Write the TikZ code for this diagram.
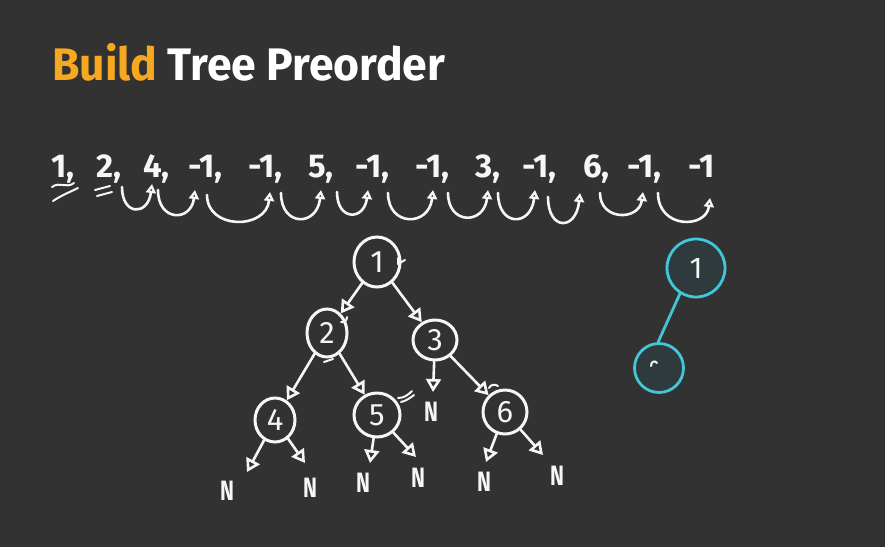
\documentclass[tikz,border=0pt]{standalone}
\usepackage{fontspec}
\usepackage{graphicx}
\setmainfont{Fira Sans}
\usetikzlibrary{arrows.meta,shapes.geometric}
\definecolor{board}{RGB}{50,50,50}
\definecolor{titleorange}{RGB}{246,168,33}
\definecolor{cyanchalk}{RGB}{66,198,216}
\definecolor{cyanfill}{RGB}{46,58,60}
\definecolor{chalk}{RGB}{246,246,246}
\begin{document}
\begin{tikzpicture}[x=1pt,y=-1pt,
  chalkline/.style={draw=chalk, line width=2.6pt, line cap=round, line join=round},
  thinchalk/.style={draw=chalk, line width=2pt, line cap=round, line join=round},
  treenode/.style={ellipse, draw=chalk, line width=3pt, inner sep=0pt, text=chalk, font=\fontsize{31}{31}\selectfont},
  tok/.style={anchor=base west, inner sep=0pt, text=chalk, font=\fontsize{33}{33}\selectfont\bfseries},
  nullmark/.style={inner sep=0pt, text=chalk, font=\fontsize{28}{28}\selectfont\bfseries},
  treearrow/.style={chalkline, -{Triangle[open,length=13pt,width=15pt]}},
  arcarrow/.style={chalkline, -{Triangle[open,length=9pt,width=10pt]}},
  cyannode/.style={circle, draw=cyanchalk, fill=cyanfill, line width=2.8pt, inner sep=0pt, text=chalk, font=\fontsize{30}{30}\selectfont}
]
\useasboundingbox (0,0) rectangle (885,547);
\fill[board] (0,0) rectangle (885,547);

% title
\node[anchor=south west, inner sep=0pt] (title) at (52,81)
  {\resizebox{393pt}{37pt}{\bfseries\textcolor{titleorange}{Build} \textcolor{white}{Tree Preorder}}};

% sequence
\node[tok] (t1) at (51,177) {1,};
\node[tok] (t2) at (96,177) {2,};
\node[tok] (t3) at (143,177) {4,};
\node[tok] (t4) at (188,177) {-1,};
\node[tok] (t5) at (248,177) {-1,};
\node[tok] (t6) at (308,177) {5,};
\node[tok] (t7) at (355,177) {-1,};
\node[tok] (t8) at (415,177) {-1,};
\node[tok] (t9) at (475,177) {3,};
\node[tok] (t10) at (522,177) {-1,};
\node[tok] (t11) at (583,177) {6,};
\node[tok] (t12) at (627,177) {-1,};
\node[tok] (t13) at (688,177) {-1};

% marks under 1 and 2
\draw[thinchalk] (52,187) .. controls (60,181) and (66,189) .. (74,183);
\draw[thinchalk] (53,201) .. controls (62,195) and (70,192) .. (78,188);
\draw[thinchalk] (95,190) -- (110,186);
\draw[thinchalk] (97,196) -- (112,192);

% arcs
\foreach \xa/\ya/\xb/\yb/\c in {
  122/187/152/184/216, 158/190/195/190/222, 207/195/270/192/230,
  281/193/321/190/227, 337/192/368/190/221, 388/193/433/190/227,
  448/193/488/190/225, 498/193/535/190/227, 548/197/580/193/231,
  600/193/643/192/221, 658/193/710/198/229}
  \draw[arcarrow] (\xa,\ya) .. controls (\xa,\c) and (\xb-4,\c) .. (\xb,\yb);

% tree
\node[treenode, minimum width=46pt, minimum height=50pt] (n1) at (377,262) {1};
\node[treenode, minimum width=40pt, minimum height=48pt] (n2) at (327,333) {2};
\node[treenode, minimum width=44pt, minimum height=40pt] (n3) at (435,340) {3};
\node[treenode, minimum width=40pt, minimum height=44pt] (n4) at (275,420) {4};
\node[treenode, minimum width=46pt, minimum height=44pt] (n5) at (377,415) {5};
\node[treenode, minimum width=44pt, minimum height=44pt] (n6) at (505,412) {6};

\draw[treearrow] (n1) -- (n2);
\draw[treearrow] (n1) -- (n3);
\draw[treearrow] (n2) -- (n4);
\draw[treearrow] (n2) -- (n5);
\draw[treearrow] (n3) -- (n6);

\coordinate (a3) at (433,392);
\coordinate (a4l) at (247,472);
\coordinate (a4r) at (305,463);
\coordinate (a5l) at (370,463);
\coordinate (a5r) at (416,457);
\coordinate (a6l) at (486,462);
\coordinate (a6r) at (543,455);

\draw[treearrow] (n3) -- (a3);
\draw[treearrow] (n4) -- (a4l);
\draw[treearrow] (n4) -- (a4r);
\draw[treearrow] (n5) -- (a5l);
\draw[treearrow] (n5) -- (a5r);
\draw[treearrow] (n6) -- (a6l);
\draw[treearrow] (n6) -- (a6r);

\node[nullmark] (N3) at (431,412) {\scalebox{0.75}[1]{N}};
\node[nullmark] (N4l) at (227,491) {\scalebox{0.75}[1]{N}};
\node[nullmark] (N4r) at (310,488) {\scalebox{0.75}[1]{N}};
\node[nullmark] (N5l) at (363,483) {\scalebox{0.75}[1]{N}};
\node[nullmark] (N5r) at (418,478) {\scalebox{0.75}[1]{N}};
\node[nullmark] (N6l) at (484,482) {\scalebox{0.75}[1]{N}};
\node[nullmark] (N6r) at (557,476) {\scalebox{0.75}[1]{N}};

% small chalk ticks
\draw[thinchalk] (398,258) -- (398,264) -- (405,260);
\draw[thinchalk] (341,322) .. controls (345,323) and (347,320) .. (347,317);
\draw[thinchalk] (324,362) -- (333,359);
\draw[thinchalk] (398,398) .. controls (404,398) and (408,395) .. (412,391);
\draw[thinchalk] (401,402) .. controls (406,401) and (410,398) .. (414,395);
\draw[thinchalk] (489,388) .. controls (491,384) and (495,384) .. (498,386);

% cyan nodes
\node[cyannode, minimum size=58pt] (c1) at (696,268) {1};
\node[cyannode, minimum size=49pt] (c2) at (659,368) {};
\draw[cyanchalk, line width=2.8pt, line cap=round] (c1.238) -- (c2.92);
\draw[draw=chalk, line width=2pt, line cap=round] (651,366) .. controls (651,361) and (655,360) .. (657,363);
\end{tikzpicture}
\end{document}
